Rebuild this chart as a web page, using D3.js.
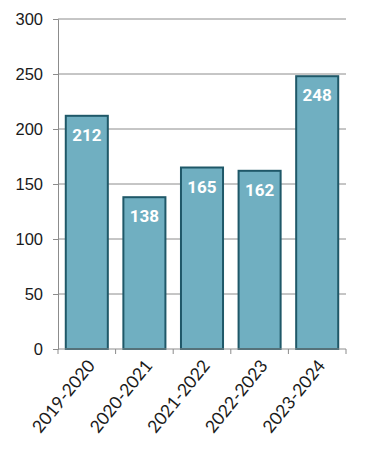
<!DOCTYPE html>
<html>
<head>
<meta charset="utf-8">
<script src="https://cdn.jsdelivr.net/npm/d3@7"></script>
<style>
  body { margin: 0; background: #fff; }
  svg { display: block; font-family: "Lato", "DejaVu Sans", sans-serif; }
</style>
</head>
<body>
<svg id="chart"></svg>
<script>
// school years and counts
var years = ["2019-2020", "2020-2021", "2021-2022", "2022-2023", "2023-2024"];
var counts = [212, 138, 165, 162, 248];
var yTicks = [0, 50, 100, 150, 200, 250, 300];

var width = 389, height = 472;
var margin = {top: 19, right: 43, bottom: 123, left: 58};

var svg = d3.select("#chart")
  .attr("width", width)
  .attr("height", height);

var x = d3.scaleBand()
  .domain(years)
  .range([margin.left, width - margin.right])
  .paddingInner(0.27)
  .paddingOuter(0.135);

var y = d3.scaleLinear()
  .domain([0, 300])
  .range([height - margin.bottom, margin.top]);

// gridlines
svg.append("g")
  .selectAll("line")
  .data(yTicks.filter(function(d) { return d > 0; }))
  .enter().append("line")
  .attr("x1", margin.left)
  .attr("x2", width - margin.right)
  .attr("y1", function(d) { return y(d); })
  .attr("y2", function(d) { return y(d); })
  .attr("stroke", "#8c8c8c")
  .attr("stroke-width", 1);

// y axis
var yAxis = svg.append("g")
  .attr("transform", "translate(" + margin.left + ",0)")
  .call(d3.axisLeft(y).tickValues(yTicks).tickSize(5).tickPadding(10));
yAxis.select(".domain").attr("stroke", "#8c8c8c");
yAxis.selectAll(".tick line").attr("stroke", "#8c8c8c");
yAxis.selectAll(".tick text")
  .attr("fill", "#1a1a1a")
  .style("font-size", "16.5px");

// bars
svg.append("g")
  .selectAll("rect")
  .data(counts)
  .enter().append("rect")
  .attr("x", function(d, i) { return x(years[i]); })
  .attr("y", function(d) { return y(d); })
  .attr("width", x.bandwidth())
  .attr("height", function(d) { return y(0) - y(d); })
  .attr("fill", "#70afc1")
  .attr("stroke", "#1f5868")
  .attr("stroke-width", 2);

// value labels
svg.append("g")
  .selectAll("text")
  .data(counts)
  .enter().append("text")
  .attr("x", function(d, i) { return x(years[i]) + x.bandwidth() / 2; })
  .attr("y", function(d) { return y(d) + 25; })
  .attr("text-anchor", "middle")
  .attr("fill", "#fff")
  .style("font-family", "Roboto, sans-serif")
  .style("font-size", "17px")
  .style("font-weight", "bold")
  .text(function(d) { return d; });

// x axis (ticks at band edges)
var xEdge = d3.scaleLinear().domain([0, years.length]).range([margin.left, width - margin.right]);
var xAxis = svg.append("g")
  .attr("transform", "translate(0," + y(0) + ")");
xAxis.append("line")
  .attr("x1", margin.left).attr("x2", width - margin.right)
  .attr("stroke", "#8c8c8c");
xAxis.selectAll("line.tk")
  .data(d3.range(years.length + 1))
  .enter().append("line")
  .attr("class", "tk")
  .attr("x1", function(d) { return xEdge(d); })
  .attr("x2", function(d) { return xEdge(d); })
  .attr("y1", 0).attr("y2", 5)
  .attr("stroke", "#8c8c8c");
xAxis.selectAll("text")
  .data(years)
  .enter().append("text")
  .attr("transform", function(d) {
    return "translate(" + (x(d) + x.bandwidth() / 2 + 9) + ",17) rotate(-51)";
  })
  .attr("text-anchor", "end")
  .attr("fill", "#1a1a1a")
  .style("font-size", "17.5px")
  .text(function(d) { return d; });
</script>
</body>
</html>
